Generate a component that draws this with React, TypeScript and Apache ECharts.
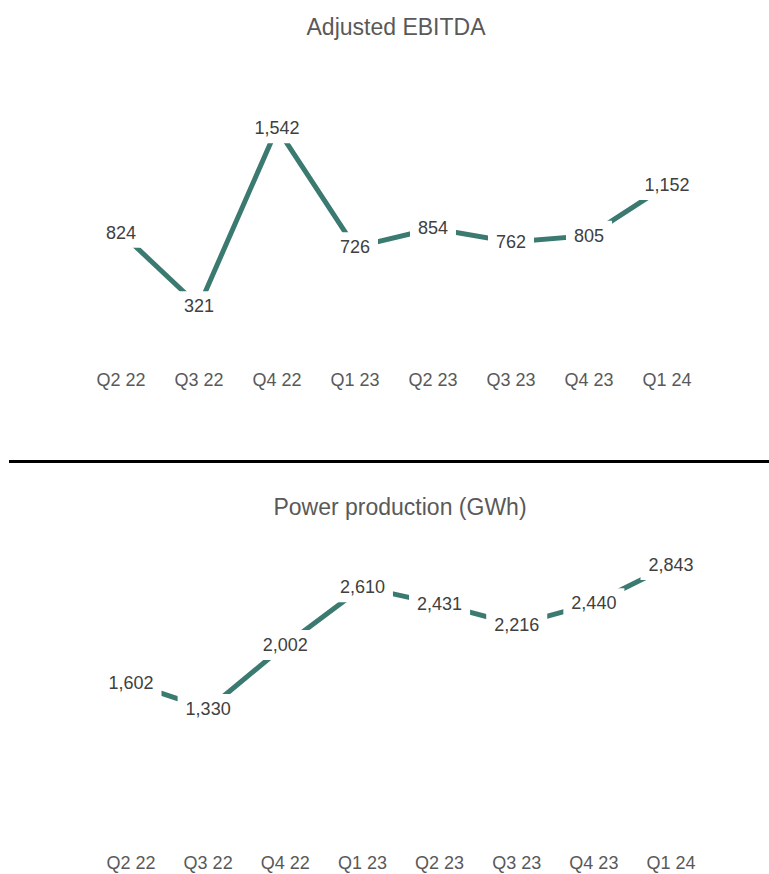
import React, { useEffect, useRef } from "react";
import * as echarts from "echarts";

const quarters = ["Q2 22", "Q3 22", "Q4 22", "Q1 23", "Q2 23", "Q3 23", "Q4 23", "Q1 24"];
const ebitda = [824, 321, 1542, 726, 854, 762, 805, 1152];
const power = [1602, 1330, 2002, 2610, 2431, 2216, 2440, 2843];
const topTitle = "Adjusted EBITDA";
const bottomTitle = "Power production (GWh)";

const LINE = "#3b7a70";
const fmt = (v: number) => v.toLocaleString("en-US");

export default function App() {
  const ref = useRef<HTMLDivElement>(null);
  useEffect(() => {
    if (!ref.current) return;
    const chart = echarts.init(ref.current, null, { renderer: "svg" });
    const font = "Liberation Sans, Arial, sans-serif";
    const labelCfg = {
      show: true,
      position: "inside" as const,
      formatter: (p: any) => fmt(p.value),
      color: "#404040",
      opacity: 1,
      fontSize: 18,
      fontFamily: font,
      backgroundColor: "#ffffff",
      padding: [6, 8],
    };
    const xAxisCommon = {
      type: "category" as const,
      data: quarters,
      boundaryGap: true,
      axisLine: { show: false },
      axisTick: { show: false },
      splitLine: { show: false },
      axisLabel: { color: "#595959", fontSize: 18, fontFamily: font, margin: 18, interval: 0 },
    };
    chart.setOption({
      animation: false,
      backgroundColor: "#ffffff",
      title: [
        {
          text: topTitle,
          left: 391,
          top: 10,
          textAlign: "center",
          textStyle: { color: "#595959", fontSize: 23, fontWeight: "normal", fontFamily: font },
        },
        {
          text: bottomTitle,
          left: 395,
          top: 490,
          textAlign: "center",
          textStyle: { color: "#595959", fontSize: 23, fontWeight: "normal", fontFamily: font },
        },
      ],
      grid: [
        { left: 82, right: 63, top: 61.4, height: 291.6 },
        { left: 92.4, right: 59.4, top: 502.4, height: 333.2 },
      ],
      xAxis: [
        { ...xAxisCommon, gridIndex: 0 },
        { ...xAxisCommon, gridIndex: 1 },
      ],
      yAxis: [
        { type: "value", gridIndex: 0, min: 0, max: 2000, show: false, splitLine: { show: false } },
        { type: "value", gridIndex: 1, min: 0, max: 3500, show: false, splitLine: { show: false } },
      ],
      graphic: [
        {
          type: "line",
          shape: { x1: 9, y1: 461.5, x2: 769, y2: 461.5 },
          style: { stroke: "#000000", lineWidth: 3 },
        },
      ],
      series: [
        {
          type: "line",
          xAxisIndex: 0,
          yAxisIndex: 0,
          data: ebitda,
          symbol: "circle",
          symbolSize: 2,
          showSymbol: true,
          itemStyle: { color: LINE },
          lineStyle: { color: LINE, width: 5 },
          label: labelCfg,
          z: 2,
        },
        {
          type: "line",
          xAxisIndex: 1,
          yAxisIndex: 1,
          data: power,
          symbol: "circle",
          symbolSize: 2,
          showSymbol: true,
          itemStyle: { color: LINE },
          lineStyle: { color: LINE, width: 5 },
          label: labelCfg,
          z: 2,
        },
      ],
    });
    return () => chart.dispose();
  }, []);
  return (
    <div
      ref={ref}
      style={{ position: "fixed", left: 0, top: 0, width: 769, height: 874, background: "#fff" }}
    />
  );
}
